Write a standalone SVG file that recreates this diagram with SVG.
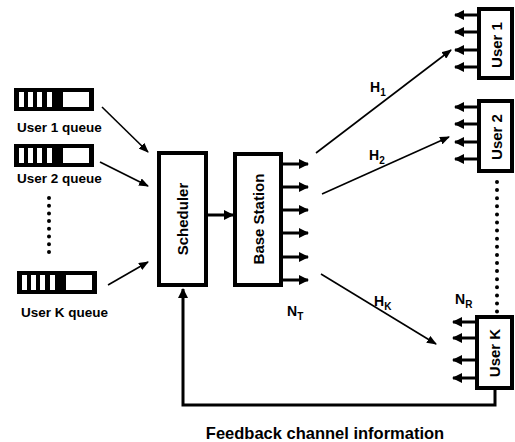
<svg xmlns="http://www.w3.org/2000/svg" width="515" height="442" viewBox="0 0 515 442">
<defs>
<style>
.lbl{font-family:"Liberation Sans",Arial,sans-serif;font-weight:bold;fill:#000}
.box{fill:#fff;stroke:#000;stroke-width:4}
.thin{stroke:#000;stroke-width:1.6;fill:none}
.thick{stroke:#000;stroke-width:3;fill:none}
.dots{stroke:#000;stroke-width:4;stroke-linecap:round;fill:none}
</style>
<marker id="ah" markerUnits="userSpaceOnUse" markerWidth="10" markerHeight="8" refX="9" refY="4" orient="auto"><path d="M0,0 L10,4 L0,8 Z" fill="#000"/></marker>
<marker id="ahb" markerUnits="userSpaceOnUse" markerWidth="10" markerHeight="10" refX="9" refY="5" orient="auto"><path d="M0,0 L10,5 L0,10 Z" fill="#000"/></marker>
<g id="queue">
<rect x="0" y="0" width="80" height="23" fill="#000"/>
<rect x="5" y="4" width="5" height="15" fill="#fff"/>
<rect x="14" y="4" width="5" height="15" fill="#fff"/>
<rect x="23" y="4" width="5" height="15" fill="#fff"/>
<rect x="33" y="4" width="5" height="15" fill="#fff"/>
<rect x="49" y="4" width="26" height="15" fill="#fff"/>
</g>
</defs>
<rect width="515" height="442" fill="#fff"/>

<g id="queue1">
<use href="#queue" x="14" y="88"/>
<text class="lbl" x="17" y="132" font-size="13.5">User 1 queue</text>
</g>
<g id="queue2">
<use href="#queue" x="14" y="144"/>
<text class="lbl" x="17" y="183" font-size="13.5">User 2 queue</text>
</g>
<g id="queueK">
<use href="#queue" x="17" y="271"/>
<text class="lbl" x="21" y="317" font-size="13.5">User K queue</text>
</g>

<g id="scheduler">
<rect class="box" x="159" y="153" width="47" height="132"/>
<text class="lbl" font-size="15" text-anchor="middle" transform="translate(188,219) rotate(-90)">Scheduler</text>
</g>
<g id="base-station">
<rect class="box" x="235" y="154" width="46" height="131"/>
<text class="lbl" font-size="15" text-anchor="middle" transform="translate(264,219) rotate(-90)">Base Station</text>
</g>

<g id="user1">
<rect class="box" x="479" y="9" width="33" height="69"/>
<text class="lbl" font-size="15" text-anchor="middle" transform="translate(502,45) rotate(-90)">User 1</text>
</g>
<g id="user2">
<rect class="box" x="479" y="101" width="33" height="70"/>
<text class="lbl" font-size="15" text-anchor="middle" transform="translate(502,137) rotate(-90)">User 2</text>
</g>
<g id="userK">
<rect class="box" x="477" y="317" width="35" height="71"/>
<text class="lbl" font-size="15" text-anchor="middle" transform="translate(500,353) rotate(-90)">User K</text>
</g>

<g id="connectors">
<line class="thin" x1="102" y1="107" x2="148" y2="152" marker-end="url(#ah)"/>
<line class="thin" x1="100" y1="162" x2="148" y2="186" marker-end="url(#ah)"/>
<line class="thin" x1="108" y1="285" x2="148" y2="262" marker-end="url(#ah)"/>
<line class="thick" x1="208" y1="215" x2="233" y2="215" marker-end="url(#ahb)"/>
<line class="thick" x1="283" y1="164" x2="308" y2="164" marker-end="url(#ahb)"/>
<line class="thick" x1="283" y1="187" x2="308" y2="187" marker-end="url(#ahb)"/>
<line class="thick" x1="283" y1="210" x2="308" y2="210" marker-end="url(#ahb)"/>
<line class="thick" x1="283" y1="233" x2="308" y2="233" marker-end="url(#ahb)"/>
<line class="thick" x1="283" y1="257" x2="308" y2="257" marker-end="url(#ahb)"/>
<line class="thick" x1="283" y1="280" x2="308" y2="280" marker-end="url(#ahb)"/>
<line class="thin" x1="316" y1="153" x2="451" y2="50" marker-end="url(#ah)"/>
<line class="thin" x1="322" y1="194" x2="449" y2="137" marker-end="url(#ah)"/>
<line class="thin" x1="321" y1="274" x2="436" y2="344" marker-end="url(#ah)"/>
<line class="thick" x1="479" y1="15" x2="455" y2="15" marker-end="url(#ahb)"/>
<line class="thick" x1="479" y1="32" x2="455" y2="32" marker-end="url(#ahb)"/>
<line class="thick" x1="479" y1="50" x2="455" y2="50" marker-end="url(#ahb)"/>
<line class="thick" x1="479" y1="67" x2="455" y2="67" marker-end="url(#ahb)"/>
<line class="thick" x1="479" y1="107" x2="455" y2="107" marker-end="url(#ahb)"/>
<line class="thick" x1="479" y1="124" x2="455" y2="124" marker-end="url(#ahb)"/>
<line class="thick" x1="479" y1="142" x2="455" y2="142" marker-end="url(#ahb)"/>
<line class="thick" x1="479" y1="159" x2="455" y2="159" marker-end="url(#ahb)"/>
<line class="thick" x1="477" y1="322" x2="453" y2="322" marker-end="url(#ahb)"/>
<line class="thick" x1="477" y1="338" x2="453" y2="338" marker-end="url(#ahb)"/>
<line class="thick" x1="477" y1="360" x2="453" y2="360" marker-end="url(#ahb)"/>
<line class="thick" x1="477" y1="378" x2="453" y2="378" marker-end="url(#ahb)"/>
<path class="thick" d="M495,388 V405 H183 V289" marker-end="url(#ahb)"/>
<line class="dots" x1="49" y1="198" x2="49" y2="252" stroke-dasharray="0 7.7"/>
<line class="dots" x1="497" y1="182" x2="497" y2="312" stroke-dasharray="0 8.1"/>
</g>

<g id="labels">
<text class="lbl" x="370" y="92" font-size="14">H<tspan font-size="10" dy="4">1</tspan></text>
<text class="lbl" x="369" y="160" font-size="14">H<tspan font-size="10" dy="4">2</tspan></text>
<text class="lbl" x="374" y="306" font-size="14">H<tspan font-size="10" dy="4">K</tspan></text>
<text class="lbl" x="287" y="316" font-size="14">N<tspan font-size="10" dy="4">T</tspan></text>
<text class="lbl" x="455" y="304" font-size="14">N<tspan font-size="10" dy="4">R</tspan></text>
<text class="lbl" x="325" y="439" font-size="16.5" text-anchor="middle">Feedback channel information</text>
</g>
</svg>
